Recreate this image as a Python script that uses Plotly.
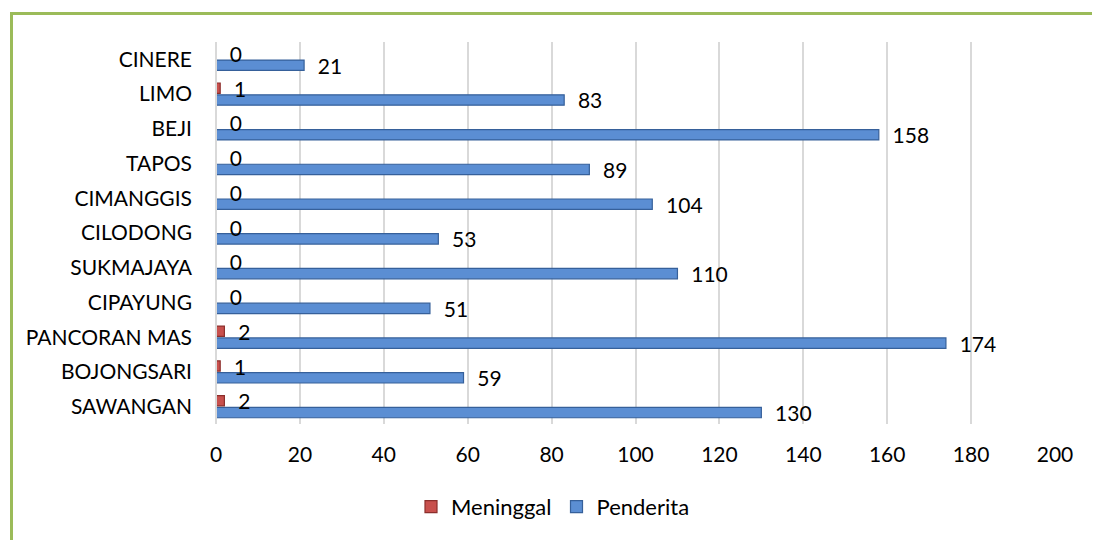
import plotly.graph_objects as go

categories = ["SAWANGAN", "BOJONGSARI", "PANCORAN MAS", "CIPAYUNG", "SUKMAJAYA",
              "CILODONG", "CIMANGGIS", "TAPOS", "BEJI", "LIMO", "CINERE"]
penderita = [130, 59, 174, 51, 110, 53, 104, 89, 158, 83, 21]
meninggal = [2, 1, 2, 0, 0, 0, 0, 0, 0, 1, 0]
x_ticks = [0, 20, 40, 60, 80, 100, 120, 140, 160, 180, 200]

FONT = "Lato"
FS = 21
# The page body has an 8px margin; the figure is sized/offset to compensate.
W, H = 1092, 532
L, R, T, B = 208, 45, 34, 116
PW, PH = W - L - R, H - T - B

fig = go.Figure()
fig.add_trace(go.Bar(
    y=categories, x=penderita, orientation="h", name="Penderita",
    marker=dict(color="#5B8ED3", line=dict(color="#36609A", width=1.2)),
    text=penderita, texttemplate="\u00a0\u00a0%{x}", textposition="outside",
    constraintext="none",
    textfont=dict(family=FONT, size=FS, color="#000000"), cliponaxis=False,
    legendrank=2,
))
fig.add_trace(go.Bar(
    y=categories, x=meninggal, orientation="h", name="Meninggal",
    marker=dict(color="#C8504D", line=dict(color="#8C2F2C", width=1.2)),
    text=meninggal, texttemplate="\u00a0\u00a0%{x}", textposition="outside",
    constraintext="none",
    textfont=dict(family=FONT, size=FS, color="#000000"), cliponaxis=False,
    legendrank=1,
))

fig.update_layout(
    width=W, height=H,
    barmode="group", bargap=0.32, bargroupgap=0.12,
    plot_bgcolor="white", paper_bgcolor="white",
    margin=dict(l=L, r=R, t=T, b=B, autoexpand=False),
    font=dict(family=FONT, size=FS, color="#000000"),
    showlegend=True,
    legend=dict(orientation="h", x=(411 - 8 - L) / PW, xanchor="left",
                y=-0.162, yanchor="top",
                font=dict(family=FONT, size=22), itemwidth=30, traceorder="normal"),
    xaxis=dict(range=[0, 200], tickvals=x_ticks, showgrid=True, gridcolor="#D9D9D9",
               gridwidth=2, zeroline=False, showline=False, ticks="",
               ticklabelstandoff=16, tickfont=dict(family=FONT, size=FS)),
    yaxis=dict(showgrid=False, zeroline=False, showline=False, ticks="",
               ticklabelstandoff=23, tickfont=dict(family=FONT, size=FS)),
    shapes=[
        dict(type="line", xref="paper", yref="paper", x0=0, x1=0, y0=0, y1=1,
             line=dict(color="#D9D9D9", width=2)),
        dict(type="rect", xref="paper", yref="paper",
             x0=(3.5 - L) / PW, x1=(1091 - L) / PW,
             y0=-0.6, y1=(T + PH - 5.5) / PH,
             line=dict(color="#9BBB59", width=3), layer="below"),
    ],
)

fig.write_html("out.html")
